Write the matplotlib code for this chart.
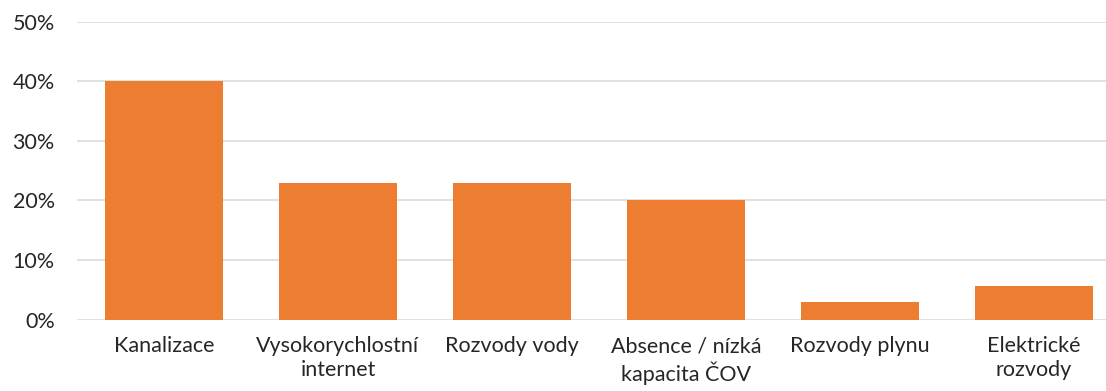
import numpy as np
import matplotlib.pyplot as plt
from matplotlib.ticker import PercentFormatter

#data
categories = ["Kanalizace", "Vysokorychlostní\ninternet", "Rozvody vody",
              "Absence / nízká\nkapacita ČOV", "Rozvody plynu", "Elektrické\nrozvody"]
shares = [0.400, 0.229, 0.229, 0.200, 0.029, 0.057]

plt.rcParams['font.family'] = ['Lato', 'DejaVu Sans']

fig = plt.figure(figsize=(11.06, 3.91), dpi=100)
#plot area is cut at the right edge in the original
ax = fig.add_axes([77 / 1106, (391 - 319.5) / 391, 1044 / 1106, 298 / 391])

x = np.arange(len(categories))
ax.bar(x, shares, width=0.68, color="#ED7D31", zorder=3)

ax.set_xlim(-0.5, len(categories) - 0.5)
ax.set_ylim(0, 0.5)
ax.set_yticks(np.arange(0, 0.51, 0.1))
ax.yaxis.set_major_formatter(PercentFormatter(1.0, decimals=0))
ax.set_xticks(x)
ax.set_xticklabels(categories, linespacing=1.25, multialignment="center")

ax.grid(axis="y", color="#D9D9D9", linewidth=1.1, zorder=0)
for s in ax.spines.values():
    s.set_visible(False)
ax.tick_params(axis="both", length=0, labelsize=15.5, colors="#262626")
ax.tick_params(axis="y", pad=16)
ax.tick_params(axis="x", pad=12)

fig.savefig("out.png", dpi=100)
